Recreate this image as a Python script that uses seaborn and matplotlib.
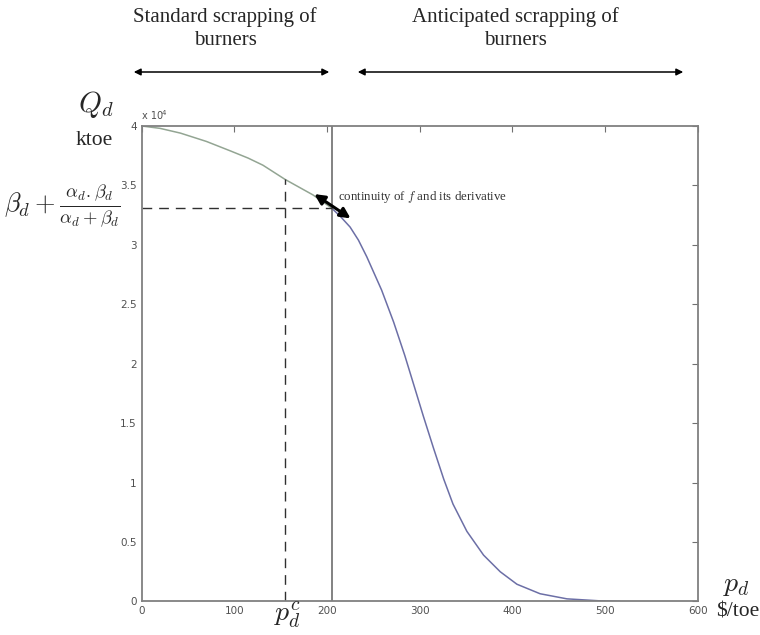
import matplotlib
matplotlib.use("Agg")
import matplotlib.pyplot as plt
from matplotlib.patches import FancyArrowPatch
import seaborn as sns
import pandas as pd
from matplotlib.ticker import FixedLocator, FuncFormatter

# demand curve (price in $/toe, demand in ktoe)
price = [0, 20, 42, 70, 96, 115, 131, 155, 185, 205, 215, 225, 234, 243, 259,
         272, 284, 295, 304, 315, 326, 336, 351, 369, 387, 405, 430, 459, 495,
         516]
demand = [40000, 39800, 39400, 38700, 37900, 37300, 36700, 35500, 34200,
          33100, 32350, 31500, 30400, 29000, 26200, 23500, 20700, 17900,
          15600, 12900, 10300, 8200, 5900, 3900, 2500, 1450, 650, 220, 50, 0]

p_switch = 205        # solid vertical line: switch of regime
p_crit = 155          # dashed vertical: p_d^c
q_switch = 33100      # dashed horizontal level
q_crit = 35500        # curve value at p_d^c

x_ticks = [0, 100, 200, 300, 400, 500, 600]
y_ticks = [0, 5000, 10000, 15000, 20000, 25000, 30000, 35000, 40000]

sns.set_style("white")
plt.rcParams["mathtext.fontset"] = "cm"
plt.rcParams["font.family"] = ["DejaVu Sans"]
serif = "Liberation Serif"

fig = plt.figure(figsize=(7.6, 6.35), dpi=100)
ax = fig.add_axes([0.1862, 0.0528, 0.7318, 0.7488])

df = pd.DataFrame({"price": price, "demand": demand})
left = df[df["price"] <= p_switch]
right = df[df["price"] >= p_switch]
sns.lineplot(data=left, x="price", y="demand", color="#93a593", lw=1.1, ax=ax)
sns.lineplot(data=right, x="price", y="demand", color="#6c6fa6", lw=1.1, ax=ax)

ax.set_xlim(0, 600)
ax.set_ylim(0, 40000)
ax.xaxis.set_major_locator(FixedLocator(x_ticks))
ax.yaxis.set_major_locator(FixedLocator(y_ticks))
ax.yaxis.set_major_formatter(FuncFormatter(lambda v, _: f"{v / 1e4:g}"))
ax.set_xlabel("")
ax.set_ylabel("")
ax.tick_params(direction="in", length=4, width=0.8, color="#707070",
               labelsize=7.5, labelcolor="#505050", top=True, right=True)
for s in ax.spines.values():
    s.set_color("#808080")
    s.set_linewidth(1.3)

# reference lines
ax.axvline(p_switch, color="#606060", lw=1.1)
ax.plot([0, p_switch], [q_switch, q_switch], color="#303030", lw=1.0,
        ls=(0, (7, 5)))
ax.plot([p_crit, p_crit], [0, q_crit], color="#303030", lw=1.0,
        ls=(0, (7, 5)))

# offset label "x 10^4"
ax.text(0, 1.01, "x 10", transform=ax.transAxes, fontsize=7,
        color="#505050", ha="left", va="bottom")
ax.text(0.036, 1.022, "4", transform=ax.transAxes, fontsize=5,
        color="#505050", ha="left", va="bottom")

# continuity arrow
ax.annotate("", xy=(184, 34400), xytext=(228, 32100),
            arrowprops=dict(arrowstyle="<|-|>", color="black", lw=2.2,
                            mutation_scale=15))
ax.text(212, 34000, r"continuity of $f$ and its derivative",
        fontsize=9.3, family=serif, color="#333333",
        ha="left", va="center")

# regime labels and arrows above the axes
fig.text(225 / 760, 1 - 28.5 / 635, "Standard scrapping of\nburners",
         ha="center", va="center", fontsize=15, family=serif,
         linespacing=1.3)
fig.text(515 / 760, 1 - 28.5 / 635, "Anticipated scrapping of\nburners",
         ha="center", va="center", fontsize=15, family=serif,
         linespacing=1.3)
y_arr = 1 - 72 / 635
fig.add_artist(FancyArrowPatch(
    (131 / 760, y_arr), (332 / 760, y_arr), transform=fig.transFigure,
    arrowstyle="<|-|>", mutation_scale=10, color="black", lw=1.1))
fig.add_artist(FancyArrowPatch(
    (355 / 760, y_arr), (686 / 760, y_arr), transform=fig.transFigure,
    arrowstyle="<|-|>", mutation_scale=10, color="black", lw=1.1))

# axis annotations
fig.text(96 / 760, 1 - 105 / 635, r"$Q_d$", fontsize=21, ha="center",
         va="center")
fig.text(94 / 760, 1 - 140 / 635, "ktoe", fontsize=15.5, family=serif,
         ha="center", va="center")
fig.text(62 / 760, 1 - 206 / 635,
         r"$\beta_d + \frac{\alpha_d.\beta_d}{\alpha_d+\beta_d}$",
         fontsize=19, ha="center", va="center")
fig.text(736 / 760, 1 - 584 / 635, r"$p_d$", fontsize=20, ha="center",
         va="center")
fig.text(738 / 760, 1 - 612 / 635, "$/toe", fontsize=15.5, family=serif,
         ha="center", va="center")
fig.text(287 / 760, 1 - 615 / 635, r"$p_d^c$", fontsize=20, ha="center",
         va="center")

fig.savefig("out.png", dpi=100)
